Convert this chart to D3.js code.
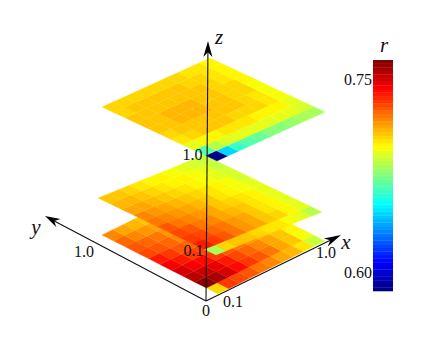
<!DOCTYPE html>
<html>
<head>
<meta charset="utf-8">
<script src="https://cdnjs.cloudflare.com/ajax/libs/d3/7.8.5/d3.min.js"></script>
<style>
  html, body { margin: 0; padding: 0; background: #fff; }
  text { font-family: "Liberation Serif", serif; fill: #111; }
</style>
</head>
<body>
<div id="chart"></div>
<script>
// r values, one row per y step, x going along the row
const bottomPlane = [
  [.705,.733,.730,.726,.722,.718,.714,.709,.703,.688],
  [.765,.758,.750,.741,.733,.726,.720,.714,.708,.695],
  [.756,.752,.746,.738,.731,.725,.719,.713,.707,.698],
  [.749,.745,.740,.734,.728,.722,.716,.711,.706,.700],
  [.743,.739,.734,.729,.724,.719,.714,.709,.705,.700],
  [.737,.733,.728,.724,.720,.716,.711,.707,.704,.700],
  [.731,.727,.723,.719,.716,.713,.709,.706,.703,.700],
  [.727,.723,.720,.716,.713,.710,.707,.705,.702,.700],
  [.723,.719,.716,.713,.710,.708,.706,.704,.701,.700],
  [.718,.714,.709,.707,.705,.704,.703,.702,.701,.700]
];
const middlePlane = [
  [.682,.705,.706,.706,.705,.703,.701,.697,.692,.684],
  [.737,.732,.727,.722,.717,.713,.708,.704,.699,.693],
  [.734,.730,.725,.721,.716,.712,.707,.703,.699,.693],
  [.730,.726,.722,.718,.714,.710,.706,.702,.698,.693],
  [.726,.722,.719,.715,.712,.708,.705,.701,.698,.692],
  [.722,.719,.716,.712,.709,.706,.703,.700,.697,.692],
  [.718,.715,.712,.709,.707,.704,.701,.699,.696,.691],
  [.714,.712,.709,.707,.704,.702,.700,.697,.694,.690],
  [.711,.709,.707,.705,.702,.700,.698,.695,.693,.689],
  [.708,.706,.704,.702,.700,.699,.696,.694,.691,.688]
];
const topPlane = [
  [.585,.645,.662,.668,.672,.675,.677,.679,.681,.683],
  [.668,.685,.691,.692,.693,.693,.693,.692,.692,.691],
  [.692,.698,.700,.701,.701,.701,.700,.700,.699,.694],
  [.703,.705,.706,.706,.706,.705,.705,.704,.702,.695],
  [.705,.707,.708,.708,.708,.707,.706,.705,.703,.696],
  [.706,.708,.709,.710,.709,.708,.707,.705,.704,.697],
  [.706,.708,.709,.710,.709,.708,.707,.705,.704,.698],
  [.706,.707,.708,.708,.708,.707,.706,.705,.703,.698],
  [.705,.706,.707,.707,.706,.706,.705,.704,.702,.698],
  [.704,.705,.705,.705,.705,.704,.704,.703,.701,.698]
];
const colorTicks = [0.60, 0.75];
const rRange = [0.585, 0.765];
const jetColors = ["#00007f", "#0000ff", "#007fff", "#00ffff", "#7fff7f", "#ffff00", "#ff7f00", "#ff0000", "#7f0000"];
const levels = 64;

const width = 436, height = 338;

const svg = d3.select("#chart").append("svg")
  .attr("width", width)
  .attr("height", height);

// Colour scale, banded like the colour bar
const jet = d3.scaleLinear()
  .domain(jetColors.map((c, i) => rRange[0] + (rRange[1] - rRange[0]) * i / (jetColors.length - 1)))
  .range(jetColors);
const band = d3.scaleQuantize().domain(rRange).range(d3.range(levels));
const levelValue = l => rRange[0] + (rRange[1] - rRange[0]) * (l + 0.5) / levels;
const color = v => jet(levelValue(band(v)));

// Axes first, the planes cover the y axis only where they overlap it
const origin = [206, 301];
function arrowAxis(tip, headLen, headWidth) {
  const dx = tip[0] - origin[0], dy = tip[1] - origin[1];
  const len = Math.hypot(dx, dy), ux = dx / len, uy = dy / len;
  svg.append("line")
    .attr("x1", origin[0]).attr("y1", origin[1])
    .attr("x2", tip[0] - ux * headLen * 0.7).attr("y2", tip[1] - uy * headLen * 0.7)
    .attr("stroke", "#111").attr("stroke-width", 1.1);
  const bx = tip[0] - ux * headLen, by = tip[1] - uy * headLen;
  const nx = bx + ux * headLen * 0.3, ny = by + uy * headLen * 0.3;
  svg.append("path")
    .attr("d", "M" + tip + "L" + [bx - uy * headWidth, by + ux * headWidth] + "L" + [nx, ny] +
      "L" + [bx + uy * headWidth, by - ux * headWidth] + "Z")
    .attr("fill", "#000");
}

// Planes: corners on screen for x=0,y=0 / x=1,y=0 / x=0,y=1
const planes = [
  { values: bottomPlane, base: [218, 294], xEnd: [325, 241], yEnd: [102, 235] },
  { values: middlePlane, base: [216, 255], xEnd: [322, 212], yEnd: [98, 198] },
  { values: topPlane, base: [217, 161], xEnd: [325, 112], yEnd: [102, 107] }
];

arrowAxis([45, 216], 15, 4.5);
arrowAxis([341, 235], 17, 4.5);

planes.forEach(function (plane) {
  const n = plane.values.length;
  const xx = d3.scaleLinear().domain([0, n]).range([0, plane.xEnd[0] - plane.base[0]]);
  const xy = d3.scaleLinear().domain([0, n]).range([0, plane.xEnd[1] - plane.base[1]]);
  const yx = d3.scaleLinear().domain([0, n]).range([0, plane.yEnd[0] - plane.base[0]]);
  const yy = d3.scaleLinear().domain([0, n]).range([0, plane.yEnd[1] - plane.base[1]]);
  const pt = (i, j) => [plane.base[0] + xx(i) + yx(j), plane.base[1] + xy(i) + yy(j)];

  const cells = [];
  plane.values.forEach((row, j) => row.forEach((v, i) => cells.push({ i: i, j: j, v: v })));

  svg.append("g").selectAll("path")
    .data(cells)
    .enter()
    .append("path")
    .attr("d", d => "M" + pt(d.i, d.j) + "L" + pt(d.i + 1, d.j) + "L" + pt(d.i + 1, d.j + 1) + "L" + pt(d.i, d.j + 1) + "Z")
    .attr("fill", d => color(d.v))
    .attr("stroke", d => color(d.v))
    .attr("stroke-width", 0.3);
});

arrowAxis([208, 41], 16, 4.5);

// Tick labels and axis names
const tickLabels = [
  ["0", 206, 316], ["0.1", 233, 307], ["1.0", 326, 258], ["1.0", 84, 257],
  ["0.1", 193.5, 256], ["1.0", 192.5, 160]
];
svg.append("g").selectAll("text")
  .data(tickLabels)
  .enter()
  .append("text")
  .attr("x", d => d[1])
  .attr("y", d => d[2])
  .attr("text-anchor", "middle")
  .attr("font-size", 16)
  .text(d => d[0]);

const axisNames = [["x", 346, 249], ["y", 36, 234], ["z", 219, 44], ["r", 384, 52]];
svg.append("g").selectAll("text")
  .data(axisNames)
  .enter()
  .append("text")
  .attr("x", d => d[1])
  .attr("y", d => d[2])
  .attr("text-anchor", "middle")
  .attr("font-size", 21)
  .attr("font-style", "italic")
  .text(d => d[0]);

// Colour bar
const barX = 373, barW = 20, barTop = 60, barBottom = 291;
const barScale = d3.scaleLinear().domain(rRange).range([barBottom, barTop]);
svg.append("g").selectAll("rect")
  .data(d3.range(levels))
  .enter()
  .append("rect")
  .attr("x", barX)
  .attr("width", barW)
  .attr("y", l => barScale(rRange[0] + (rRange[1] - rRange[0]) * (l + 1) / levels))
  .attr("height", (barBottom - barTop) / levels + 0.3)
  .attr("fill", l => jet(levelValue(l)));

svg.append("g").selectAll("text")
  .data(colorTicks)
  .enter()
  .append("text")
  .attr("x", barX - 1)
  .attr("y", d => barScale(d) + 6)
  .attr("text-anchor", "end")
  .attr("font-size", 16)
  .text(d => d.toFixed(2));
</script>
</body>
</html>
